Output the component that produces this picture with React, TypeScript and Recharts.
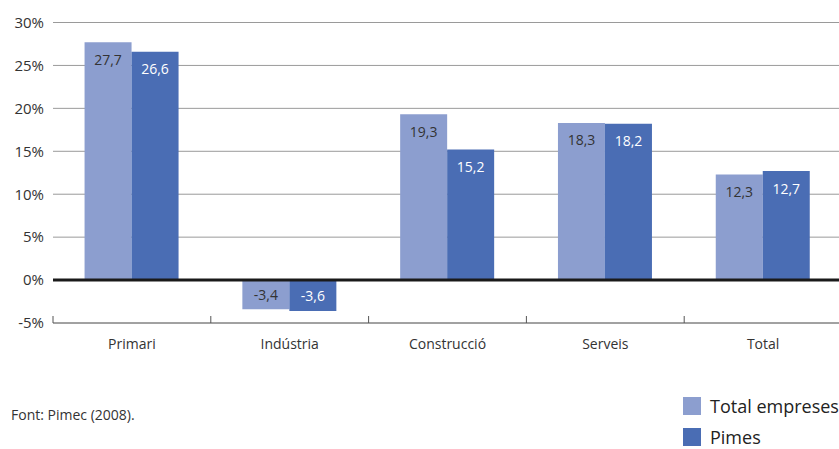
import { BarChart, Bar, XAxis, YAxis, CartesianGrid, ReferenceLine, LabelList } from "recharts";

const categories = ["Primari", "Indústria", "Construcció", "Serveis", "Total"];
const totalEmpreses = [27.7, -3.4, 19.3, 18.3, 12.3];
const pimes = [26.6, -3.6, 15.2, 18.2, 12.7];
const yTicks = [-5, 0, 5, 10, 15, 20, 25, 30];
const seriesNames = ["Total empreses", "Pimes"];
const sourceNote = "Font: Pimec (2008).";

const LIGHT = "#8c9ecf";
const DARK = "#4a6db4";
const FONT = "'Open Sans', 'Noto Sans', sans-serif";

const data = categories.map((c, i) => ({ name: c, total: totalEmpreses[i], pimes: pimes[i] }));

const fmt = (v: number) => v.toFixed(1).replace(".", ",");

// label inside the top of the bar (or centred for negative bars)
const makeLabel = (color: string) => (props: any) => {
    const { x, y, width, height, value } = props;
    const top = Math.min(y, y + height);
    const cy = value < 0 ? top + Math.abs(height) / 2 : top + 17;
    return (
        <text x={x + width / 2} y={cy} textAnchor="middle" dominantBaseline="central"
            fill={color} fontSize={14} fontFamily={FONT}>
            {fmt(value)}
        </text>
    );
};

// category label plus boundary ticks that point up from the axis line
const CatTick = (props: any) => {
    const { x, y, payload, index, visibleTicksCount } = props;
    const half = payload.offset || 78.9;
    return (
        <g>
            <line x1={x - half} x2={x - half} y1={y - 7} y2={y} stroke="#555" />
            {index === visibleTicksCount - 1 && (
                <line x1={x + half} x2={x + half} y1={y - 7} y2={y} stroke="#555" />
            )}
            <text x={x} y={y + 26} textAnchor="middle" fill="#333" fontSize={14} fontFamily={FONT}>
                {payload.value}
            </text>
        </g>
    );
};

export default function App() {
    return (
        <div style={{ position: "absolute", left: 0, top: 0, width: 839, height: 449, overflow: "hidden", background: "#fff", fontFamily: FONT }}>
            <BarChart
                width={845}
                height={449}
                data={data}
                margin={{ top: 22.5, right: 3, left: 0, bottom: 96 }}
                barCategoryGap="20%"
                barGap={0}
            >
                <CartesianGrid vertical={false} stroke="#9a9a9a" />
                <XAxis
                    dataKey="name"
                    height={30}
                    tickLine={false}
                    tickSize={0}
                    tickMargin={0}
                    axisLine={{ stroke: "#777" }}
                    tick={<CatTick />}
                    interval={0}
                />
                <YAxis
                    width={53}
                    domain={[-5, 30]}
                    ticks={yTicks}
                    tickFormatter={(v) => `${v}%`}
                    axisLine={false}
                    tickLine={false}
                    tickSize={0}
                    tickMargin={9}
                    tick={{ fontSize: 15, fill: "#333", fontFamily: FONT }}
                />
                <Bar dataKey="total" fill={LIGHT} isAnimationActive={false}>
                    <LabelList dataKey="total" content={makeLabel("#333")} />
                </Bar>
                <Bar dataKey="pimes" fill={DARK} isAnimationActive={false}>
                    <LabelList dataKey="pimes" content={makeLabel("#fff")} />
                </Bar>
                <ReferenceLine y={0} stroke="#1a1a1a" strokeWidth={3} />
            </BarChart>
            <div style={{ position: "absolute", left: 11, top: 405, fontSize: 14, color: "#333" }}>{sourceNote}</div>
            {seriesNames.map((n, i) => (
                <div key={n} style={{ position: "absolute", left: 683, top: 397 + i * 31, height: 18, display: "flex", alignItems: "center", whiteSpace: "nowrap" }}>
                    <span style={{ width: 18, height: 18, background: i === 0 ? LIGHT : DARK, display: "inline-block" }} />
                    <span style={{ marginLeft: 9, fontSize: 18, color: "#222", lineHeight: "18px" }}>{n}</span>
                </div>
            ))}
        </div>
    );
}
